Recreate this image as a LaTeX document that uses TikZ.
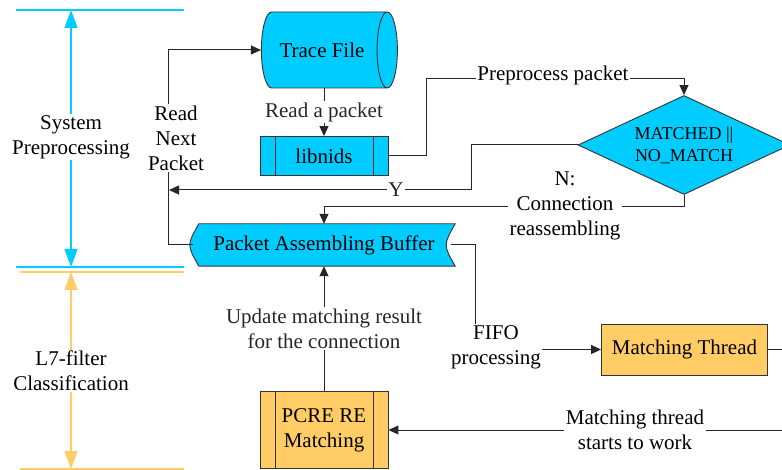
\documentclass[tikz,border=0pt]{standalone}
\usepackage{fontspec}
\setmainfont{Liberation Serif}
\usepackage{xcolor}
\usepackage{tikz}
\usetikzlibrary{arrows.meta,positioning,shapes.geometric,calc}
\definecolor{PreCyan}{HTML}{00CCFF}
\definecolor{FilterOrange}{HTML}{FFCC66}
\pgfdeclarelayer{background}
\pgfsetlayers{background,main}

\begin{document}
\begin{tikzpicture}[
  x=1pt, y=-1pt,
  every node/.style={font=\fontsize{21}{25}\selectfont, align=center},
  stage/.style={draw=black!80, line width=0.9pt, inner sep=2pt},
  procbox/.style={stage, minimum width=128pt, path picture={
      \draw[black!80, line width=0.9pt]
        ([xshift=15pt]path picture bounding box.north west) -- ([xshift=15pt]path picture bounding box.south west)
        ([xshift=-15pt]path picture bounding box.north east) -- ([xshift=-15pt]path picture bounding box.south east);}},
  lbl/.style={fill=white, inner sep=1.5pt},
  arrow/.style={-{Triangle[width=9pt,length=10pt]}, line width=1pt, black!85},
  span/.style={line width=1.3pt, {Triangle[width=13pt,length=18pt]}-{Triangle[width=13pt,length=18pt]}}
]
\useasboundingbox (0,0) rectangle (782,470);
\clip (0,0) rectangle (782,470);

% stages on the left
\draw[PreCyan, line width=2pt] (16,10) -- (184,10) (16,267) -- (184,267);
\draw[FilterOrange, line width=2pt] (20,272) -- (184,272) (20,469) -- (184,469);
\draw[span, PreCyan] (71,10) -- (71,267);
\draw[span, FilterOrange] (71,272) -- (71,469);
\node[lbl] (sysstage) at (71,137) {System\\Preprocessing};
\node[lbl] (l7stage) at (71,371) {L7-filter\\Classification};

% nodes
\node[cylinder, shape aspect=0.95, draw=black!80, line width=0.9pt, fill=PreCyan,
      minimum width=76pt, minimum height=136pt] (trace) at (322,50) {Trace File};
\node[procbox, fill=PreCyan, minimum height=39pt] (lib) at (324,156) {libnids};
\node[diamond, shape aspect=2.14, draw=black!80, line width=0.9pt, fill=PreCyan, minimum width=212pt, minimum height=99pt,
      inner sep=0pt, font=\fontsize{18}{22}\selectfont] (match) at (684,145) {MATCHED ||\\NO\_MATCH};
\node[minimum width=262pt, minimum height=42pt, inner sep=0pt] (buffer) at (324,245) {Packet Assembling Buffer};
\node[stage, fill=FilterOrange, minimum width=166pt, minimum height=51pt] (thread) at (684.5,349.5) {Matching Thread};
\node[procbox, fill=FilterOrange, minimum height=77pt] (pcre) at (324,430) {PCRE RE\\Matching};

\begin{pgfonlayer}{background}
\draw[fill=PreCyan, draw=black!80, line width=0.9pt] ([xshift=6pt]buffer.north west) -- (buffer.north east)
  .. controls ([xshift=-12pt]buffer.east) .. (buffer.south east) -- ([xshift=6pt]buffer.south west)
  .. controls ([xshift=-6pt]buffer.west) .. cycle;
\end{pgfonlayer}

\coordinate (yjoin) at (169,190);

% connectors
\draw[arrow] (lib.north |- trace.south) -- node[lbl] (readlbl) {Read a packet} (lib.north);
\draw[arrow] (buffer.west) -- ++(-24,0) |- (trace.west);
\node[lbl] (readnext) at (176,138) {Read\\Next\\Packet};
\draw[arrow] (lib.east) -- ++(38,0) |- ([yshift=17pt]match.north) -- (match.north);
\node[lbl] (prelbl) at (553,75) {Preprocess packet};
\draw[arrow] (match.west) -| ++(-106,45) -- node[lbl, pos=0.25] (ylbl) {Y} (yjoin);
\draw[arrow] (match.south) |- ([yshift=-12pt]match.south) -| (buffer.north);
\node[lbl] (nlbl) at (565,206) {N:\\Connection\\reassembling};
\draw[arrow] ([xshift=-4pt]buffer.east) -- ++(24,0) |- (thread.west);
\node[lbl] (fifolbl) at (496,347) {FIFO\\processing};
\draw[arrow] (thread.east) -- ++(30,0) |- (pcre.east);
\node[lbl] (startlbl) at (635,430) {Matching thread\\starts to work};
\draw[arrow] (pcre.north) -- node[lbl] (updlbl) {Update matching result\\for the connection} (buffer.south);
\end{tikzpicture}
\end{document}
